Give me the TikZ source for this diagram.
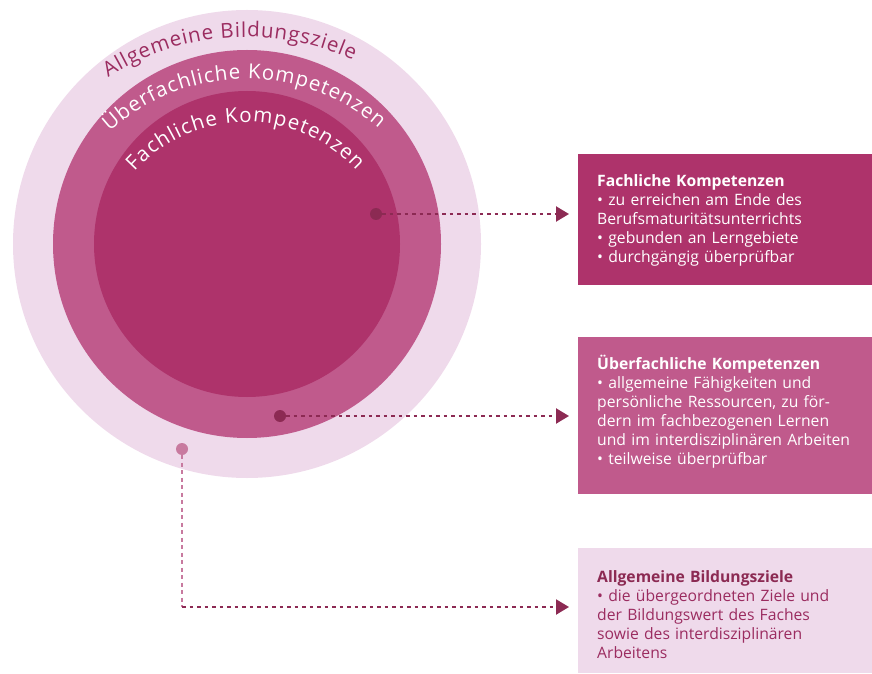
\documentclass[tikz,border=0pt]{standalone}
\usepackage{fontspec}
\setmainfont{Open Sans}
\usetikzlibrary{arrows.meta,decorations.text,positioning,calc}

\definecolor{ringlight}{HTML}{EFDAEB}
\definecolor{ringmid}{HTML}{C05A8C}
\definecolor{ringdark}{HTML}{AE336B}
\definecolor{pointdark}{HTML}{8C2A53}
\definecolor{pointlight}{HTML}{C87A9F}
\definecolor{labeldark}{HTML}{9B2C60}

\def\outercircle{(247,429) circle (234pt)}
\def\middlecircle{(247,429) circle (194pt)}
\def\innercircle{(247,429) circle (153pt)}
\newcommand\ringfont{\fontsize{20.5}{20.5}\selectfont}

\tikzset{
  panel/.style={anchor=north west, minimum width=294pt, inner sep=0pt, outer sep=0pt},
  paneltext/.style={anchor=base west, text width=280pt, align=left, inner sep=0pt,
    font=\fontsize{15.7}{19}\selectfont},
  point/.style={circle, minimum size=12pt, inner sep=0pt},
  dotline/.style={pointdark, line width=2.2pt, dash pattern=on 3.5pt off 4pt,
    -{Triangle[length=13pt,width=15pt]}, shorten >=9pt},
  ringlabel/.style={decorate, decoration={text along path, text align={fit to path},
    text={#1}}},
}

\begin{document}
\begin{tikzpicture}[x=1pt,y=1pt]
  \useasboundingbox (0,0) rectangle (872,673);
  % rings
  \fill[ringlight] \outercircle;
  \fill[ringmid] \middlecircle;
  \fill[ringdark] \innercircle;
  \path[ringlabel={|\color{labeldark}\ringfont|Allgemeine Bildungsziele}]
    (246,380) ++(122.6:256pt) arc[start angle=122.6, end angle=65.3, radius=256pt];
  \path[ringlabel={|\color{white}\ringfont|Überfachliche Kompetenzen}]
    (246,391) ++(132.2:203pt) arc[start angle=132.2, end angle=49.2, radius=203pt];
  \path[ringlabel={|\color{white}\ringfont|Fachliche Kompetenzen}]
    (246,401) ++(138:150pt) arc[start angle=138, end angle=42.6, radius=150pt];

  % points
  \node[point, fill=pointdark] (fachdot) at (376,459) {};
  \node[point, fill=pointdark] (ueberdot) at (280,257) {};
  \node[point, fill=pointlight] (allgdot) at (182,224) {};

  % panels
  \node[panel, fill=ringdark, minimum height=131pt] (fachbox) at (578,519) {};
  \node[paneltext, text=white] (fachtext) at ([xshift=19pt,yshift=-33pt]fachbox.north west)
    {\textbf{Fachliche Kompetenzen}\\
     • zu erreichen am Ende des\\
     Berufsmaturitätsunterrichts\\
     • gebunden an Lerngebiete\\
     • durchgängig überprüfbar};

  \node[panel, fill=ringmid, minimum height=157pt] (ueberbox) at (578,336) {};
  \node[paneltext, text=white] (uebertext) at ([xshift=19pt,yshift=-32pt]ueberbox.north west)
    {\textbf{Überfachliche Kompetenzen}\\
     • allgemeine Fähigkeiten und\\
     persönliche Ressourcen, zu för-\\
     dern im fachbezogenen Lernen\\
     und im interdisziplinären Arbeiten\\
     • teilweise überprüfbar};

  \node[panel, fill=ringlight, minimum height=125pt] (allgbox) at (578,125) {};
  \node[paneltext, text=labeldark] (allgtext) at ([xshift=19pt,yshift=-34pt]allgbox.north west)
    {\textcolor{pointdark}{\textbf{Allgemeine Bildungsziele}}\\
     • die übergeordneten Ziele und\\
     der Bildungswert des Faches\\
     sowie des interdisziplinären\\
     Arbeitens};

  % connectors
  \draw[dotline] (fachdot) -- (fachdot -| fachbox.west);
  \draw[dotline] (ueberdot) -- (ueberdot -| ueberbox.west);
  \coordinate (allgcorner) at (182,66);
  \draw[pointlight, line width=1.4pt, dash pattern=on 4pt off 3.5pt] (allgdot) -- (allgcorner);
  \draw[dotline] (allgcorner) -- (allgcorner -| allgbox.west);
\end{tikzpicture}
\end{document}
